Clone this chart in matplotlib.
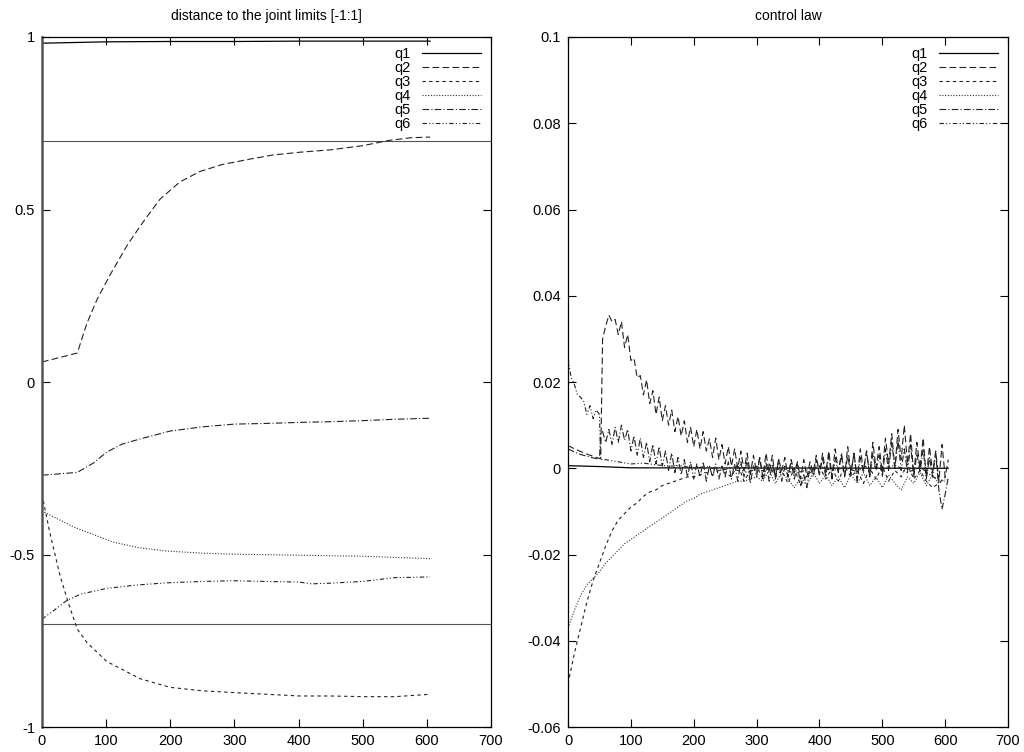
import numpy as np
import matplotlib
matplotlib.use("Agg")
import matplotlib.pyplot as plt
from matplotlib.ticker import FormatStrFormatter

plt.rcParams['font.family'] = ['Liberation Sans', 'DejaVu Sans']
plt.rcParams['axes.unicode_minus'] = False

# -------------------------
# Left panel: distance to the joint limits
# -------------------------
limit_hi = 0.7
limit_lo = -0.7

L_q1_x = [0, 100, 200, 300, 400, 500, 605]
L_q1_y = [0.982, 0.986, 0.987, 0.987, 0.988, 0.988, 0.988]

L_q2_x = [0, 55, 70, 86, 106, 134, 160, 184, 215, 246, 280, 324, 360, 402, 450, 500, 540, 575, 605]
L_q2_y = [0.058, 0.084, 0.17, 0.24, 0.31, 0.40, 0.47, 0.53, 0.58, 0.61, 0.63, 0.646, 0.658,
          0.666, 0.673, 0.685, 0.70, 0.708, 0.71]

L_q3_x = [0, 12, 28, 41, 55, 70, 101, 153, 200, 250, 298, 350, 402, 450, 500, 550, 605]
L_q3_y = [-0.325, -0.435, -0.56, -0.64, -0.716, -0.755, -0.81, -0.86, -0.885, -0.895, -0.90,
          -0.905, -0.91, -0.91, -0.912, -0.912, -0.905]

L_q4_x = [0, 49, 111, 150, 195, 250, 298, 402, 500, 605]
L_q4_y = [-0.374, -0.42, -0.464, -0.48, -0.49, -0.496, -0.499, -0.502, -0.505, -0.512]

L_q5_x = [0, 55, 80, 101, 125, 153, 200, 250, 300, 350, 402, 450, 500, 550, 605]
L_q5_y = [-0.27, -0.262, -0.235, -0.203, -0.18, -0.165, -0.142, -0.13, -0.122, -0.12, -0.117,
          -0.115, -0.112, -0.108, -0.105]

L_q6_x = [0, 20, 38, 60, 101, 150, 195, 250, 298, 350, 402, 420, 450, 500, 550, 605]
L_q6_y = [-0.687, -0.66, -0.634, -0.615, -0.598, -0.588, -0.582, -0.578, -0.576, -0.578,
          -0.580, -0.585, -0.583, -0.578, -0.567, -0.565]

L_yticks = [-1, -0.5, 0, 0.5, 1]

# -------------------------
# Right panel: control law
# -------------------------
R_q1_x = [0, 50, 100, 605]
R_q1_y = [0.0006, 0.0004, 0.0001, 0.0]

R_q2_head_x = [0, 5, 10, 15, 20, 25, 30, 35, 40, 45, 50, 52]
R_q2_head_y = [0.0053, 0.0049, 0.0045, 0.0042, 0.0039, 0.0036, 0.0033, 0.0030, 0.0028, 0.0025,
               0.0023, 0.0022]
R_q2_tail = [0.030, 0.033, 0.0355, 0.034, 0.0345, 0.031, 0.034, 0.028, 0.031, 0.025,
             0.0255, 0.021, 0.0215, 0.017, 0.0205, 0.015, 0.018, 0.0125, 0.0165, 0.011,
             0.0145, 0.010, 0.0135, 0.0085, 0.012, 0.0075, 0.011, 0.006, 0.0095, 0.005,
             0.009, 0.0045, 0.0085, 0.004, 0.0068, 0.0025, 0.007, 0.002, 0.0055, 0.001,
             0.005, 0.0005, 0.0045, 0.0, 0.004, -0.0005, 0.0035, -0.0015, 0.003, -0.001,
             0.0025, -0.002, 0.0035, -0.001, 0.003, -0.0025, 0.002, -0.0005, 0.0025, -0.002,
             0.002, -0.001, 0.0015, -0.0025, 0.002, -0.002, 0.0015, -0.001, 0.003, -0.0015,
             0.0035, -0.001, 0.004, -0.002, 0.0045, -0.0005, 0.003, -0.002, 0.005, -0.001,
             0.0035, -0.0025, 0.0045, -0.0005, 0.004, -0.002, 0.006, 0.0, 0.005, -0.001,
             0.007, 0.001, 0.008, 0.0, 0.009, 0.002, 0.010, 0.001, 0.008, -0.0015,
             0.006, 0.0, 0.007, -0.002, 0.005, -0.001, 0.004, -0.003, 0.0055, -0.002, 0.002]

R_q3_head_x = [0, 10, 20, 30, 40, 50, 60, 70, 80, 90, 100, 110, 120, 130, 140, 150, 160, 170,
               180, 190, 200, 210, 220, 230, 240, 250]
R_q3_head_y = [-0.050, -0.043, -0.037, -0.031, -0.026, -0.022, -0.018, -0.0145, -0.012, -0.0105,
               -0.009, -0.008, -0.0065, -0.0055, -0.005, -0.004, -0.0035, -0.003, -0.0025,
               -0.002, -0.002, -0.0015, -0.001, -0.0015, -0.0005, -0.001]
R_q3_tail = [-0.002, 0.001, -0.003, -0.0005, 0.0005, -0.0025, 0.001, -0.002, -0.0005, -0.0035,
             0.0, -0.004, -0.0015, -0.0005, 0.0005, -0.0025, 0.0, -0.003, 0.0005, -0.002,
             -0.0005, -0.0035, 0.0, -0.0025, 0.0005, -0.003, -0.0005, -0.002, 0.001, -0.0025,
             -0.0005, -0.003, -0.0045, -0.0035, -0.002]

R_q4_head_x = [0, 10, 20, 30, 40, 50, 60, 70, 80, 90, 100, 110, 120, 130, 140, 150, 160, 170,
               180, 190, 200, 210, 220, 230, 240, 250, 260, 270, 280, 290, 300]
R_q4_head_y = [-0.037, -0.033, -0.0295, -0.027, -0.0255, -0.024, -0.022, -0.0205, -0.019,
               -0.0175, -0.0165, -0.0155, -0.0145, -0.0135, -0.0125, -0.0115, -0.0105, -0.0095,
               -0.0085, -0.0075, -0.007, -0.006, -0.0055, -0.005, -0.0045, -0.004, -0.0035,
               -0.003, -0.003, -0.0025, -0.002]
R_q4_tail = [-0.003, -0.0005, -0.0035, -0.001, -0.0025, -0.0045, -0.002, -0.004, -0.001, -0.0035,
             -0.0015, -0.004, -0.002, -0.0045, -0.0015, -0.0035, -0.001, -0.004, -0.002, -0.0045,
             -0.0015, -0.0035, -0.005, -0.002, -0.0035, -0.001, -0.004, -0.0015, -0.0035, -0.0025]

R_q5_head_x = [0, 10, 20, 30, 40, 50, 52]
R_q5_head_y = [0.0045, 0.0038, 0.0032, 0.0028, 0.0024, 0.0021, 0.0080]
R_q5_tail = [0.0085, 0.006, 0.009, 0.0055, 0.0095, 0.006, 0.010, 0.0065, 0.009, 0.004,
             0.0075, 0.003, 0.007, 0.0025, 0.006, 0.0015, 0.0055, 0.001, 0.005, 0.0005,
             0.004, -0.0005, 0.0035, -0.001, 0.0025, -0.0015, 0.002, -0.002, 0.0015, -0.0025,
             0.001, -0.002, 0.0015, -0.003, 0.0005, -0.002, 0.001, -0.0025, 0.0005, -0.002,
             0.0015, -0.0025, 0.001, -0.003, 0.0015, -0.002, 0.002, -0.0035, 0.0005, -0.002,
             0.0025, -0.0025, 0.0015, -0.003, 0.001, -0.002, 0.002, -0.003, 0.0005, -0.002,
             0.0015, -0.0025, 0.001, -0.004, -0.0015, -0.0045, 0.0005, -0.002, 0.002, -0.0015,
             0.0025, -0.002, 0.003, -0.0025, 0.0025, -0.001, 0.0035, -0.002, 0.003, -0.0015,
             0.0035, -0.003, 0.0025, -0.001, 0.004, -0.002, 0.0035, -0.0005, 0.003, -0.002,
             0.0045, -0.0005, 0.006, 0.0, 0.0065, -0.0005, 0.0045, -0.001, 0.0055, -0.002,
             0.0035, -0.001, 0.0045, -0.0025, 0.0025, -0.002, 0.0035, -0.005, -0.0095, -0.006, -0.002]

R_q6_head_x = [0, 5, 10, 15, 20, 25, 30, 35, 40, 45, 50, 52]
R_q6_head_y = [0.0255, 0.021, 0.0195, 0.017, 0.0165, 0.0155, 0.0125, 0.0145, 0.0115, 0.0135,
               0.0125, 0.0020]
R_q6_tail = [0.002, 0.0015, 0.001, 0.0012, 0.0008, 0.0005, 0.0006, 0.0, 0.0004, -0.0005,
             0.0, -0.001, -0.0003, -0.0008, 0.0, -0.0012, -0.0004, 0.0005, -0.0006, 0.0002,
             -0.0008, 0.001, -0.0005, 0.0008, -0.001, 0.0003, -0.002, -0.003]

R_yticks = [-0.06, -0.04, -0.02, 0, 0.02, 0.04, 0.06, 0.08, 0.1]

# x grids of the sampled tails
tail5 = np.arange(55, 606, 5)
q3_tail_x = np.arange(260, 601, 10)
q4_tail_x = np.arange(310, 601, 10)
q6_tail_x = np.arange(60, 601, 20)

# -------------------------
# Styles (gnuplot monochrome)
# -------------------------
styles = {
    'q1': dict(color='black', lw=0.9, ls='-'),
    'q2': dict(color='#222222', lw=0.8, ls=(0, (6, 3))),
    'q3': dict(color='#222222', lw=0.8, ls=(0, (3, 3))),
    'q4': dict(color='#333333', lw=0.8, ls=(0, (1, 1.5))),
    'q5': dict(color='#222222', lw=0.8, ls=(0, (6, 2, 1, 2))),
    'q6': dict(color='#222222', lw=0.8, ls=(0, (4, 2, 1, 2, 1, 2))),
}

fig = plt.figure(figsize=(10.24, 7.52), dpi=100)
ax1 = fig.add_axes([0.041, 0.0332, 0.4385, 0.9176])
ax2 = fig.add_axes([0.5547, 0.0332, 0.4297, 0.9176])

# left
ax1.axhline(limit_hi, color='#555555', lw=0.8)
ax1.axhline(limit_lo, color='#555555', lw=0.8)
ax1.plot(L_q1_x, L_q1_y, label='q1', **styles['q1'])
ax1.plot(L_q2_x, L_q2_y, label='q2', **styles['q2'])
ax1.plot(L_q3_x, L_q3_y, label='q3', **styles['q3'])
ax1.plot(L_q4_x, L_q4_y, label='q4', **styles['q4'])
ax1.plot(L_q5_x, L_q5_y, label='q5', **styles['q5'])
ax1.plot(L_q6_x, L_q6_y, label='q6', **styles['q6'])
ax1.set_xlim(0, 700)
ax1.set_ylim(-1, 1)
ax1.set_yticks(L_yticks)
ax1.yaxis.set_major_formatter(FormatStrFormatter('%g'))
ax1.set_title('distance to the joint limits [-1:1]', fontsize=10, pad=12)

# right
ax2.plot(R_q1_x, R_q1_y, label='q1', **styles['q1'])
ax2.plot(np.concatenate([R_q2_head_x, tail5]), R_q2_head_y + R_q2_tail, label='q2', **styles['q2'])
ax2.plot(np.concatenate([R_q3_head_x, q3_tail_x]), R_q3_head_y + R_q3_tail, label='q3', **styles['q3'])
ax2.plot(np.concatenate([R_q4_head_x, q4_tail_x]), R_q4_head_y + R_q4_tail, label='q4', **styles['q4'])
ax2.plot(np.concatenate([R_q5_head_x, tail5]), R_q5_head_y + R_q5_tail, label='q5', **styles['q5'])
ax2.plot(np.concatenate([R_q6_head_x, q6_tail_x]), R_q6_head_y + R_q6_tail, label='q6', **styles['q6'])
ax2.set_xlim(0, 700)
ax2.set_ylim(-0.06, 0.1)
ax2.set_yticks(R_yticks)
ax2.set_yticklabels(['%g' % v for v in R_yticks])
ax2.set_title('control law', fontsize=10, pad=12)

for ax in (ax1, ax2):
    ax.set_xticks(range(0, 701, 100))
    ax.tick_params(direction='in', top=True, right=True, length=6, width=0.8,
                   labelsize=10.5, pad=5)
    for s in ax.spines.values():
        s.set_linewidth(0.9)
    ax.legend(loc='upper right', frameon=False, markerfirst=False, fontsize=10.5,
              handlelength=4, labelspacing=0.0, borderaxespad=0.3, handletextpad=0.8)

ax1.spines['left'].set_linewidth(1.8)
ax1.spines['left'].set_color('#555555')

fig.savefig('out.png', dpi=100)
